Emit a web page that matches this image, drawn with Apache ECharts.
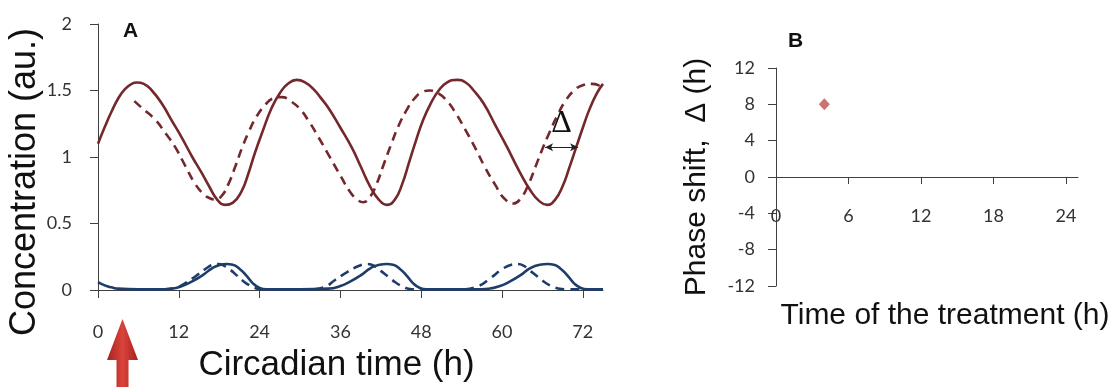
<!DOCTYPE html>
<html><head><meta charset="utf-8">
<script src="https://cdn.jsdelivr.net/npm/echarts@6/dist/echarts.min.js"></script>
<style>html,body{margin:0;padding:0;background:#fff}#c{width:1112px;height:387px}</style>
</head><body><div id="c"></div>
<script>
// Panel A: circadian time (h) and concentration (au.)
const xTicksA = [0, 12, 24, 36, 48, 60, 72];
const yTicksA = [0, 0.5, 1, 1.5, 2];
const redSolid = [
[0,1.10],[1,1.225],[2,1.34],[3,1.44],[4,1.51],[5,1.55],[5.8,1.56],[6.8,1.55],[8,1.50],[9.5,1.40],[11,1.27],[12.4,1.15],[14,1.00],
[15.4,0.88],[16.5,0.78],[17.7,0.68],[18.9,0.64],[20,0.655],[21.3,0.74],[22.3,0.87],[23.3,1.03],[24.5,1.20],[25.8,1.37],
[27,1.48],[28.2,1.55],[29.5,1.58],[30.8,1.56],[32,1.51],[33,1.45],[34.2,1.37],[36,1.22],[37.7,1.07],[39,0.93],[40.4,0.78],
[41.7,0.68],[42.9,0.64],[44.1,0.68],[45.2,0.80],[46.2,0.96],[47.2,1.12],[48.3,1.28],[49.5,1.41],[50.6,1.50],[51.8,1.56],
[53.3,1.58],[54.6,1.56],[55.8,1.50],[57.3,1.40],[59,1.24],[60.7,1.08],[62.5,0.90],[64.2,0.75],[65.5,0.67],[66.7,0.64],
[67.9,0.68],[69,0.78],[70,0.92],[71,1.07],[72,1.22],[73,1.36],[74.1,1.48],[75,1.55]];
const redDashed = [
[5.4,1.42],[6.5,1.37],[8.5,1.28],[10,1.18],[11.4,1.08],[13,0.93],[14.4,0.80],[15.7,0.72],[16.6,0.69],[17.4,0.68],
[18.4,0.71],[19.4,0.80],[20.4,0.93],[21.4,1.07],[22.4,1.19],[23.5,1.30],[24.8,1.39],[26,1.44],[27.3,1.45],
[28.6,1.42],[30,1.36],[31.3,1.27],[32.5,1.17],[34.2,1.02],[36,0.86],[37.4,0.74],[38.5,0.68],[39.4,0.66],
[40.4,0.70],[41.4,0.80],[42.4,0.94],[43.5,1.09],[44.6,1.23],[45.8,1.35],[47,1.44],[48.2,1.49],[49.3,1.50],
[50.5,1.48],[51.7,1.43],[53,1.34],[54.5,1.21],[56,1.07],[57.5,0.92],[59,0.79],[60.3,0.69],[61.7,0.65],
[62.8,0.69],[63.9,0.79],[65,0.93],[66,1.06],[67.1,1.19],[68.2,1.31],[69.4,1.42],[70.7,1.50],[72,1.54],
[73.3,1.55],[74.3,1.54],[74.9,1.50]];
const blueSolid = [
[0,0.06],[1,0.035],[2,0.02],[3,0.01],[6,0.005],[9,0.005],[10.9,0.01],[12.5,0.03],[14,0.065],[15.5,0.11],
[17,0.165],[18.2,0.19],[19.1,0.195],[20,0.19],[21,0.16],[22,0.11],[23,0.05],[24,0.015],[25,0.005],[30,0.005],
[34.2,0.01],[36,0.03],[37.5,0.065],[39,0.11],[40.5,0.165],[41.8,0.19],[42.9,0.195],[43.8,0.19],[44.8,0.16],[45.8,0.11],
[46.8,0.05],[47.8,0.015],[48.8,0.005],[56,0.005],[58,0.01],[59.7,0.03],[61.2,0.065],[62.7,0.11],[64.2,0.165],
[65.6,0.19],[66.8,0.195],[67.7,0.19],[68.7,0.16],[69.7,0.11],[70.7,0.05],[71.7,0.015],[72.7,0.005],[75,0.005]];
const blueDashed = [
[5.4,0.005],[9,0.005],[11.4,0.015],[12.9,0.05],[14.4,0.10],[16,0.16],[17.1,0.19],[17.9,0.195],[18.8,0.18],[19.7,0.15],
[20.6,0.11],[21.5,0.07],[22.5,0.035],[23.5,0.012],[24.5,0.005],[31,0.005],[33.5,0.02],[35.2,0.075],[37,0.135],[38.7,0.18],
[40,0.195],[41.1,0.18],[42.1,0.14],[43.1,0.10],[44.1,0.06],[45.1,0.03],[46.1,0.01],[47,0.005],[54,0.005],[56.5,0.03],[58.3,0.09],
[60,0.155],[61.4,0.19],[62.3,0.195],[63.3,0.18],[64.3,0.14],[65.3,0.10],[66.3,0.06],[67.3,0.03],[68.3,0.012],[69.5,0.005],[75,0.005]];
const deltaStart = [66.4, 1.073];
const deltaEnd = [71.3, 1.073];
// Panel B: phase shift vs time of treatment
const xTicksB = [0, 6, 12, 18, 24];
const yTicksB = [-12, -8, -4, 0, 4, 8, 12];
const phaseShift = [[4, 8]];

const RED = '#74282c', BLUE = '#1f3d6b', AX = '#404040';
const tickFont = {fontFamily: 'Lato', fontSize: 18, color: '#333'};
const titleFont = {fontFamily: 'Liberation Sans', color: '#111'};
const SM = 0.5;

const chart = echarts.init(document.getElementById('c'), null, {renderer: 'canvas'});
chart.setOption({
  animation: false,
  backgroundColor: '#fff',
  grid: [
    {left: 98, top: 24, width: 505, height: 266, outerBoundsMode: 'none', containLabel: false},
    {left: 776, top: 68, width: 302, height: 218, outerBoundsMode: 'none', containLabel: false}
  ],
  xAxis: [
    {gridIndex: 0, type: 'value', min: 0, max: 75,
     name: 'Circadian time (h)', nameLocation: 'middle', nameGap: 58,
     nameTextStyle: Object.assign({fontSize: 35, padding: [0, 28, 0, 0]}, titleFont),
     axisLine: {lineStyle: {color: AX, width: 1}},
     axisTick: {show: true, length: 8, inside: false, lineStyle: {color: AX}, customValues: xTicksA},
     axisLabel: Object.assign({margin: 33, customValues: xTicksA}, tickFont),
     splitLine: {show: false}},
    {gridIndex: 1, type: 'value', min: 0, max: 25, offset: -109,
     name: 'Time of the treatment (h)', nameLocation: 'middle', nameGap: 124,
     nameTextStyle: Object.assign({fontSize: 30, padding: [0, 0, 0, 36]}, titleFont),
     axisLine: {onZero: false, lineStyle: {color: AX, width: 1}},
     axisTick: {show: true, length: 7, lineStyle: {color: AX}, customValues: xTicksB},
     axisLabel: Object.assign({margin: 30, customValues: xTicksB}, tickFont),
     splitLine: {show: false}}
  ],
  yAxis: [
    {gridIndex: 0, type: 'value', min: 0, max: 2, interval: 0.5,
     name: 'Concentration (au.)', nameLocation: 'middle', nameGap: 50,
     nameTextStyle: Object.assign({fontSize: 36, padding: [0, 50, 0, 0]}, titleFont),
     axisLine: {show: true, lineStyle: {color: AX, width: 1}},
     axisTick: {show: true, length: 8, lineStyle: {color: AX}},
     axisLabel: Object.assign({margin: 26, customValues: yTicksA, formatter: v => String(v)}, tickFont),
     splitLine: {show: false}},
    {gridIndex: 1, type: 'value', min: -12, max: 12, interval: 4,
     name: 'Phase shift,  \u0394 (h)', nameLocation: 'middle', nameGap: 64,
     nameTextStyle: Object.assign({fontSize: 30}, titleFont),
     axisLine: {show: true, onZero: false, lineStyle: {color: AX, width: 1}},
     axisTick: {show: true, length: 8, lineStyle: {color: AX}},
     axisLabel: Object.assign({margin: 21, customValues: yTicksB}, tickFont),
     splitLine: {show: false}}
  ],
  series: [
    {type: 'line', name: 'red', xAxisIndex: 0, yAxisIndex: 0, data: redSolid, smooth: SM, showSymbol: false,
     lineStyle: {color: RED, width: 2.6},
     markLine: {silent: true, symbol: ['arrow', 'arrow'], symbolSize: [6, 8],
       lineStyle: {color: '#222', width: 1, type: 'solid'},
       label: {show: true, position: 'middle', formatter: '\u0394', distance: 8,
               fontFamily: 'Liberation Serif', fontSize: 32, color: '#111'},
       data: [[{coord: deltaStart}, {coord: deltaEnd}]]}},
    {type: 'line', name: 'red dashed', xAxisIndex: 0, yAxisIndex: 0, data: redDashed, smooth: SM, showSymbol: false,
     lineStyle: {color: RED, width: 2.6, type: [9, 6]}},
    {type: 'line', name: 'blue', xAxisIndex: 0, yAxisIndex: 0, data: blueSolid, smooth: SM, showSymbol: false,
     lineStyle: {color: BLUE, width: 2.6}},
    {type: 'line', name: 'blue dashed', xAxisIndex: 0, yAxisIndex: 0, data: blueDashed, smooth: SM, showSymbol: false,
     lineStyle: {color: BLUE, width: 2.6, type: [9, 6]}},
    {type: 'scatter', xAxisIndex: 1, yAxisIndex: 1, data: phaseShift, symbol: 'diamond', symbolSize: [11, 12],
     itemStyle: {color: '#c0504d'}}
  ],
  graphic: [
    {type: 'text', left: 123, top: 21, style: {text: 'A', font: 'bold 21px "Liberation Sans"', fill: '#111'}},
    {type: 'text', left: 788, top: 31, style: {text: 'B', font: 'bold 21px "Liberation Sans"', fill: '#111'}},
    {type: 'polygon', shape: {points: [[122.5,319],[107,360],[116.5,360],[116.5,387],[128.5,387],[128.5,360],[138,360]]},
     style: {fill: new echarts.graphic.LinearGradient(0, 0, 1, 0, [
       {offset: 0, color: '#a8231f'}, {offset: 0.5, color: '#d9433a'}, {offset: 1, color: '#a8231f'}])}}
  ]
});
</script></body></html>
